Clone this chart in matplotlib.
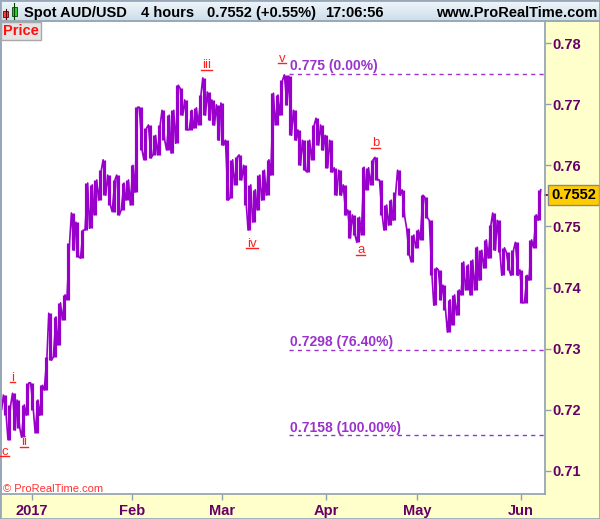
import matplotlib.pyplot as plt
import matplotlib.colors as mcolors
from matplotlib.patches import Rectangle
from matplotlib.lines import Line2D
import numpy as np

plt.rcParams['font.family'] = ['Liberation Sans', 'DejaVu Sans']

# DATA (daily high / low of the 4h chart, trading days from Dec 22 2016)
highs = [0.7227, 0.7224, 0.7208, 0.7227, 0.7216, 0.7208, 0.7244, 0.7244, 0.7216, 0.7240,
         0.7286, 0.7358, 0.7352, 0.7375, 0.7388, 0.7473, 0.7522, 0.7507, 0.7494, 0.7571,
         0.7568, 0.7576, 0.7592, 0.7609, 0.7584, 0.7576, 0.7584, 0.7571, 0.7576, 0.7600,
         0.7695, 0.7695, 0.7661, 0.7666, 0.7649, 0.7666, 0.7690, 0.7682, 0.7690, 0.7731,
         0.7726, 0.7707, 0.7690, 0.7694, 0.7715, 0.7743, 0.7720, 0.7707, 0.7699, 0.7702,
         0.7641, 0.7609, 0.7613, 0.7617, 0.7600, 0.7568, 0.7560, 0.7584, 0.7592, 0.7609,
         0.7718, 0.7715, 0.7739, 0.7748, 0.7746, 0.7690, 0.7658, 0.7641, 0.7641, 0.7666,
         0.7677, 0.7666, 0.7649, 0.7641, 0.7596, 0.7592, 0.7568, 0.7527, 0.7519, 0.7515,
         0.7597, 0.7596, 0.7609, 0.7613, 0.7576, 0.7535, 0.7543, 0.7556, 0.7592, 0.7560,
         0.7497, 0.7486, 0.7494, 0.7551, 0.7548, 0.7510, 0.7432, 0.7429, 0.7404, 0.7380,
         0.7388, 0.7396, 0.7442, 0.7437, 0.7445, 0.7466, 0.7461, 0.7478, 0.7502, 0.7522,
         0.7510, 0.7465, 0.7458, 0.7461, 0.7474, 0.7429, 0.7420, 0.7478, 0.7519, 0.7560]
lows = [0.7200, 0.7191, 0.7151, 0.7167, 0.7170, 0.7155, 0.7191, 0.7200, 0.7162, 0.7191,
        0.7232, 0.7281, 0.7286, 0.7306, 0.7347, 0.7380, 0.7461, 0.7450, 0.7448, 0.7494,
        0.7497, 0.7519, 0.7543, 0.7551, 0.7535, 0.7524, 0.7519, 0.7527, 0.7543, 0.7535,
        0.7556, 0.7625, 0.7609, 0.7612, 0.7617, 0.7617, 0.7641, 0.7625, 0.7620, 0.7636,
        0.7682, 0.7658, 0.7658, 0.7661, 0.7666, 0.7682, 0.7674, 0.7666, 0.7641, 0.7633,
        0.7543, 0.7546, 0.7568, 0.7576, 0.7535, 0.7494, 0.7507, 0.7527, 0.7543, 0.7551,
        0.7584, 0.7666, 0.7682, 0.7699, 0.7649, 0.7641, 0.7600, 0.7592, 0.7589, 0.7609,
        0.7633, 0.7625, 0.7596, 0.7589, 0.7551, 0.7551, 0.7519, 0.7481, 0.7486, 0.7474,
        0.7486, 0.7560, 0.7568, 0.7576, 0.7519, 0.7494, 0.7502, 0.7510, 0.7551, 0.7515,
        0.7453, 0.7442, 0.7465, 0.7478, 0.7514, 0.7420, 0.7371, 0.7380, 0.7363, 0.7327,
        0.7339, 0.7355, 0.7388, 0.7396, 0.7388, 0.7396, 0.7412, 0.7432, 0.7448, 0.7461,
        0.7458, 0.7420, 0.7429, 0.7420, 0.7420, 0.7375, 0.7375, 0.7412, 0.7465, 0.7510]
last_price = 0.7552

month_pos = [7, 29, 49, 72, 92, 115]
month_labels = ['2017', 'Feb', 'Mar', 'Apr', 'May', 'Jun']
price_ticks = [0.71, 0.72, 0.73, 0.74, 0.75, 0.76, 0.77, 0.78]

fib_levels = [0.775, 0.7298, 0.7158]
fib_labels = ['0.775 (0.00%)', '0.7298 (76.40%)', '0.7158 (100.00%)']
fib_start = 63.7

wave_names = ['c', 'i', 'ii', 'iii', 'iv', 'v', 'a', 'b']
wave_x = [1.0, 2.8, 5.2, 45.6, 55.6, 62.2, 79.6, 82.9]
wave_y = [0.7131, 0.7252, 0.7147, 0.7764, 0.7472, 0.7774, 0.7461, 0.7636]

# COLOURS
PURPLE = '#9900CC'
FIB = '#9933CC'
AXTXT = '#660066'
PANEL = '#FFFFCC'
GRAYLINE = '#8FA0B0'
RED = '#FF2020'

W, H = 600, 519
fig = plt.figure(figsize=(W / 100, H / 100), dpi=100, facecolor=PANEL)

ax = fig.add_axes([1 / W, 25 / H, 544 / W, 472 / H])
ax.set_facecolor('white')

n = len(highs)
days = np.arange(n)
hi = np.array(highs)
lo = np.array(lows)
mid = (hi + lo) / 2

# bars
ax.vlines(days, lo, hi, color=PURPLE, linewidth=2.3)

# jagged path through each day's range
xs, ys = [], []
for i in range(n):
    nxt = mid[i + 1] if i < n - 1 else mid[i] + (mid[i] - mid[i - 1])
    if nxt >= mid[i]:
        a, b = lo[i], hi[i]
    else:
        a, b = hi[i], lo[i]
    xs += [i - 0.3, i + 0.3]
    ys += [a, b]
ax.plot(xs, ys, color=PURPLE, linewidth=1.2)

# fibonacci levels
for lvl, lab in zip(fib_levels, fib_labels):
    ax.hlines(lvl, fib_start, 121, color=FIB, linewidth=1.0, linestyles=(0, (3, 3)))
    ax.annotate(lab, xy=(fib_start + 0.2, lvl), xytext=(0, 0.3), textcoords='offset points',
                ha='left', va='bottom', color=FIB, fontsize=10, fontweight='bold')

# wave labels
wave_texts = []
for name, x, y in zip(wave_names, wave_x, wave_y):
    t = ax.text(x, y, name, ha='center', va='center', color=RED, fontsize=9.5)
    wave_texts.append(t)

ax.set_xlim(0.16, 120.25)
ax.set_ylim(0.70622, 0.78344)

# axes styling
ax.yaxis.tick_right()
ax.set_yticks(price_ticks)
ax.set_yticklabels([f'{v:.2f}' for v in price_ticks])
ax.tick_params(axis='y', direction='out', length=4, width=1, color=GRAYLINE, pad=1.5,
               labelsize=10.5, labelcolor=AXTXT)
ax.set_xticks(month_pos)
ax.set_xticklabels(month_labels)
ax.tick_params(axis='x', direction='out', length=4, width=1, color=GRAYLINE, pad=3,
               labelsize=10.5, labelcolor=AXTXT)
for lab in ax.get_xticklabels() + ax.get_yticklabels():
    lab.set_fontweight('bold')
for s in ['left', 'right', 'bottom']:
    ax.spines[s].set_color(GRAYLINE)
    ax.spines[s].set_linewidth(1.2)
ax.spines['top'].set_visible(False)

# last price marker
ax.plot([1.0, 1.008], [last_price, last_price], transform=ax.get_yaxis_transform(),
        color='#550022', linewidth=1.2, clip_on=False)
ax.annotate(f'{last_price:.4f}', xy=(1.0, last_price), xycoords=('axes fraction', 'data'),
            xytext=(4.5, 0), textcoords='offset points', ha='left', va='center',
            fontsize=10.5, fontweight='bold', color='black',
            bbox=dict(boxstyle='square,pad=0.2', facecolor='#FFCC00', edgecolor='#8A8A8A', linewidth=1))

# header bar
hax = fig.add_axes([0, 1 - 22 / H, 1, 22 / H])
cmap = mcolors.LinearSegmentedColormap.from_list('hdr', ['#F2F7FB', '#C9DCEA'])
grad = np.linspace(0, 1, 50).reshape(-1, 1)
hax.imshow(grad, aspect='auto', cmap=cmap, extent=[0, W, 22, 0])
hax.set_xlim(0, W)
hax.set_ylim(22, 0)
hax.axis('off')
hax.plot([0, W], [21.5, 21.5], color=GRAYLINE, linewidth=1.2)
# small candle icon
hax.plot([5.7, 5.7], [9, 19], color='#660000', linewidth=0.8)
hax.add_patch(Rectangle((3.2, 11.5), 5, 5.5, facecolor='#EE4444', edgecolor='#660000', linewidth=0.6))
hax.plot([14.3, 14.3], [3.5, 19.5], color='#004400', linewidth=0.8)
hax.add_patch(Rectangle((11.7, 7), 5.3, 9, facecolor='#33CC33', edgecolor='#004400', linewidth=0.6))

hdr_font = dict(fontsize=10.5, fontweight='bold', color='black', va='center')
hax.text(24, 13.2, 'Spot AUD/USD', ha='left', **hdr_font)
hax.text(141, 13.2, '4 hours', ha='left', **hdr_font)
hax.text(207, 13.2, '0.7552 (+0.55%)', ha='left', **hdr_font)
hax.text(325, 13.2, '17:06:56', ha='left', **hdr_font)
hax.text(597, 13.2, 'www.ProRealTime.com', ha='right', **hdr_font)

# "Price" tag
fig.text(3 / W, 1 - 31 / H, 'Price', ha='left', va='center', color='#FF1010',
         fontsize=10.5, fontweight='bold',
         bbox=dict(boxstyle='square,pad=0.15', facecolor='#E4E4E4', edgecolor='#A8A8A8', linewidth=1))

# copyright
fig.text(3 / W, 1 - 489 / H, '\u00a9 ProRealTime.com', ha='left', va='center',
         color='#FF3333', fontsize=8)

# outer border
fig.add_artist(Rectangle((0, 0), 1, 1, transform=fig.transFigure, fill=False,
                         edgecolor='#98A8B8', linewidth=2))

# underline the wave labels
fig.canvas.draw()
for t in wave_texts:
    bb = t.get_window_extent()
    yline = bb.y0 + 1.5
    fig.add_artist(Line2D([bb.x0 - 1, bb.x1 + 1], [yline, yline], transform=None,
                          color=RED, linewidth=1.0))

fig.savefig('out.png', dpi=100, facecolor=PANEL)
